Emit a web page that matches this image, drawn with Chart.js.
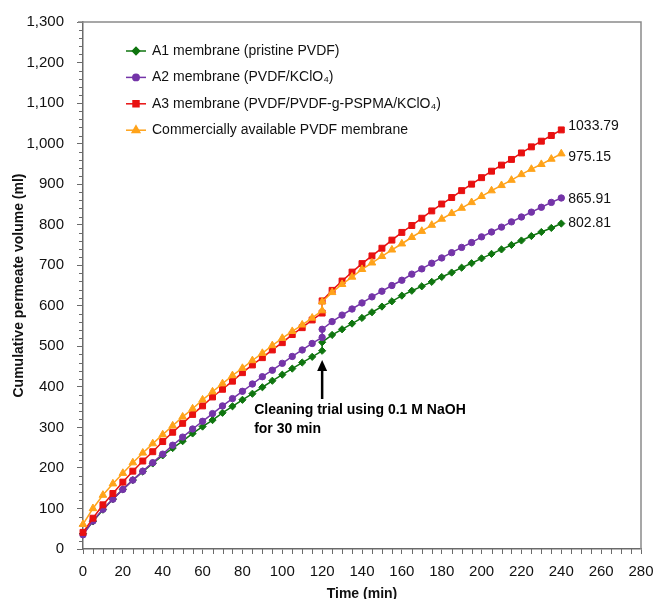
<!DOCTYPE html>
<html>
<head>
<meta charset="utf-8">
<script src="https://cdn.jsdelivr.net/npm/chart.js@4.4.1/dist/chart.umd.min.js"></script>
<style>
    html, body { margin: 0; padding: 0; background: #fff; }
    canvas { display: block; }
</style>
</head>
<body>
<canvas id="grafico" width="654" height="599"></canvas>
<script>
// ── Datos ─────────────────────────────────────────────────
// t = 120 aparece dos veces: antes y después de la limpieza con NaOH
const TIEMPOS = [0, 5, 10, 15, 20, 25, 30, 35, 40, 45, 50, 55, 60, 65, 70, 75, 80, 85, 90, 95, 100, 105, 110, 115, 120,
    120, 125, 130, 135, 140, 145, 150, 155, 160, 165, 170, 175, 180, 185, 190, 195, 200, 205, 210, 215, 220, 225, 230, 235, 240];

const VOL_A1 = [38, 68, 97, 123, 147, 170, 191, 211, 231, 249, 266, 285, 302, 318, 336, 352, 368, 383, 399, 415, 430, 445, 460, 474, 489,
    510, 528, 542, 556, 570, 584, 598, 611, 625, 637, 648, 659, 671, 682, 694, 705, 717, 728, 739, 750, 761, 772, 782, 792, 802.81];
const VOL_A2 = [35, 69, 98, 123, 147, 170, 192, 213, 234, 256, 276, 296, 315, 334, 353, 371, 389, 407, 425, 441, 458, 475, 491, 507, 522,
    542, 561, 577, 592, 607, 622, 636, 650, 663, 678, 691, 705, 718, 731, 744, 756, 770, 782, 794, 807, 819, 831, 843, 855, 865.91];
const VOL_A3 = [41, 76, 109, 137, 165, 192, 217, 240, 265, 288, 310, 332, 353, 375, 394, 414, 435, 454, 472, 491, 509, 529, 546, 565, 582,
    612, 638, 661, 683, 704, 723, 742, 762, 781, 798, 816, 834, 851, 867, 884, 900, 916, 932, 947, 961, 977, 992, 1006, 1020, 1033.79];
const VOL_COM = [61, 100, 133, 161, 187, 213, 237, 260, 282, 304, 326, 346, 368, 388, 408, 428, 446, 465, 483, 502, 520, 537, 553, 570, 588,
    610, 633, 653, 671, 690, 706, 722, 738, 753, 769, 784, 799, 814, 828, 841, 855, 870, 884, 897, 910, 924, 937, 949, 962, 975.15];

const NOMBRES = [
    'A1 membrane (pristine PVDF)',
    'A2 membrane (PVDF/KClO\u2084)',
    'A3 membrane (PVDF/PVDF-g-PSPMA/KClO\u2084)',
    'Commercially available PVDF membrane'
];
const ETIQUETAS_FINALES = ['802.81', '865.91', '1033.79', '975.15'];

const EJE_X_MAX = 280;
const EJE_Y_MAX = 1300;

// Flecha de la limpieza (en unidades del gráfico)
const LIMPIEZA_T = 120;
const LIMPIEZA_PUNTA = 466;
const LIMPIEZA_BASE = 370;
const LIMPIEZA_TEXTO = ['Cleaning trial using 0.1 M NaOH', 'for 30 min'];

// ── Estilo ────────────────────────────────────────────────
// sin fuente estrecha instalada: Liberation Sans un poco más pequeña
const FUENTE = "'Liberation Sans Narrow', 'Arial Narrow', 'Liberation Sans', Arial, sans-serif";
const COLORES = ['#0f750f', '#7434a8', '#e81010', '#ffa31a'];
const ESTILOS_PUNTO = ['rectRot', 'circle', 'rect', 'triangle'];
const RADIOS_PUNTO = [3.6, 3.2, 4.2, 4.4];
const GRIS_EJE = '#6b6b6b';

Chart.defaults.font.family = FUENTE;
Chart.defaults.color = '#111';

function serie(valores) {
    return TIEMPOS.map((t, i) => ({ x: t, y: valores[i] }));
}

const datasets = [VOL_A1, VOL_A2, VOL_A3, VOL_COM].map((v, i) => ({
    label: NOMBRES[i],
    data: serie(v),
    borderColor: COLORES[i],
    backgroundColor: COLORES[i],
    borderWidth: 1.5,
    pointStyle: ESTILOS_PUNTO[i],
    pointRadius: RADIOS_PUNTO[i],
    pointBorderWidth: 1,
    pointHoverRadius: RADIOS_PUNTO[i],
    tension: 0,
    clip: false,
    order: 4 - i // la última serie queda encima, como en Excel
}));

// Caja gris superior/derecha y marcas menores de los ejes
const marcoYMarcas = {
    id: 'marcoYMarcas',
    beforeDatasetsDraw(chart) {
        const { ctx, chartArea: ca, scales: { x, y } } = chart;
        ctx.save();
        ctx.strokeStyle = '#8a8a8a';
        ctx.lineWidth = 1.5;
        ctx.beginPath();
        ctx.moveTo(ca.left - 5, ca.top);
        ctx.lineTo(ca.right, ca.top);
        ctx.lineTo(ca.right, ca.bottom);
        ctx.stroke();

        ctx.strokeStyle = GRIS_EJE;
        ctx.lineWidth = 1;
        ctx.beginPath();
        for (let v = 20; v < EJE_Y_MAX; v += 20) {
            if (v % 100 === 0) continue;
            const py = Math.round(y.getPixelForValue(v)) + 0.5;
            ctx.moveTo(ca.left - 4, py);
            ctx.lineTo(ca.left, py);
        }
        for (let t = 5; t < EJE_X_MAX; t += 5) {
            if (t % 20 === 0) continue;
            const px = Math.round(x.getPixelForValue(t)) + 0.5;
            ctx.moveTo(px, ca.bottom);
            ctx.lineTo(px, ca.bottom + 5);
        }
        ctx.stroke();
        ctx.restore();
    }
};

// Leyenda dentro del área del gráfico, arriba a la izquierda
const leyendaInterna = {
    id: 'leyendaInterna',
    afterDraw(chart) {
        const { ctx, chartArea: ca } = chart;
        const x0 = ca.left + 43;
        const y0 = ca.top + 29;
        const paso = 26.4;
        ctx.save();
        chart.data.datasets.forEach((ds, i) => {
            const yy = y0 + i * paso;
            ctx.strokeStyle = ds.borderColor;
            ctx.fillStyle = ds.backgroundColor;
            ctx.lineWidth = 1.5;
            ctx.beginPath();
            ctx.moveTo(x0, yy);
            ctx.lineTo(x0 + 20, yy);
            ctx.stroke();
            Chart.helpers.drawPoint(ctx, {
                pointStyle: ds.pointStyle, radius: ds.pointRadius, rotation: 0, borderWidth: 1
            }, x0 + 10, yy);
            ctx.fillStyle = '#111';
            ctx.font = '14px ' + FUENTE;
            ctx.textBaseline = 'middle';
            ctx.textAlign = 'left';
            ctx.fillText(ds.label, x0 + 26, yy);
        });
        ctx.restore();
    }
};

// Valores finales junto al último punto de cada serie
const etiquetasFinales = {
    id: 'etiquetasFinales',
    afterDatasetsDraw(chart) {
        const { ctx } = chart;
        const ajusteY = [0, 1, -4, 3];
        ctx.save();
        ctx.fillStyle = '#111';
        ctx.font = '14px ' + FUENTE;
        ctx.textBaseline = 'middle';
        ctx.textAlign = 'left';
        chart.data.datasets.forEach((ds, i) => {
            const meta = chart.getDatasetMeta(i);
            const ultimo = meta.data[meta.data.length - 1];
            ctx.fillText(ETIQUETAS_FINALES[i], ultimo.x + 7, ultimo.y + ajusteY[i]);
        });
        ctx.restore();
    }
};

// Flecha y texto de la limpieza con NaOH
const anotacionLimpieza = {
    id: 'anotacionLimpieza',
    afterDatasetsDraw(chart) {
        const { ctx, scales: { x, y } } = chart;
        const px = x.getPixelForValue(LIMPIEZA_T);
        const punta = y.getPixelForValue(LIMPIEZA_PUNTA);
        const base = y.getPixelForValue(LIMPIEZA_BASE);
        ctx.save();
        ctx.strokeStyle = '#000';
        ctx.fillStyle = '#000';
        ctx.lineWidth = 2.5;
        ctx.beginPath();
        ctx.moveTo(px, base);
        ctx.lineTo(px, punta + 8);
        ctx.stroke();
        ctx.beginPath();
        ctx.moveTo(px, punta);
        ctx.lineTo(px - 5, punta + 11);
        ctx.lineTo(px + 5, punta + 11);
        ctx.closePath();
        ctx.fill();
        ctx.font = 'bold 14px ' + FUENTE;
        ctx.textBaseline = 'middle';
        ctx.textAlign = 'left';
        ctx.fillText(LIMPIEZA_TEXTO[0], px - 68, base + 11);
        ctx.fillText(LIMPIEZA_TEXTO[1], px - 68, base + 30);
        ctx.restore();
    }
};

new Chart(document.getElementById('grafico'), {
    type: 'line',
    data: { datasets },
    options: {
        responsive: false,
        animation: false,
        events: [],
        layout: { padding: { left: 0, right: 13, top: 22, bottom: 0 } },
        plugins: {
            legend: { display: false },
            tooltip: { enabled: false }
        },
        scales: {
            x: {
                type: 'linear',
                min: 0, max: EJE_X_MAX,
                afterFit: s => { s.height = 50; s.paddingLeft = 0; s.paddingRight = 0; },
                ticks: { stepSize: 20, padding: 9, color: '#111', font: { size: 15 } },
                grid: { drawOnChartArea: false, drawTicks: true, tickLength: 5, color: GRIS_EJE },
                border: { color: GRIS_EJE, width: 1.5 },
                title: {
                    display: true, text: 'Time (min)', color: '#111',
                    font: { size: 14, weight: 'bold', lineHeight: 0.7 }, padding: { top: 0, bottom: 0 }
                }
            },
            y: {
                min: 0, max: EJE_Y_MAX,
                afterFit: s => { s.width = 83; s.paddingTop = 0; s.paddingBottom = 0; },
                ticks: {
                    stepSize: 100, padding: 13, color: '#111', font: { size: 15 },
                    callback: v => v.toLocaleString('en-US')
                },
                grid: { drawOnChartArea: false, drawTicks: true, tickLength: 6, color: GRIS_EJE },
                border: { color: GRIS_EJE, width: 1.5 },
                title: {
                    display: true, text: 'Cumulative permeate volume (ml)', color: '#111',
                    font: { size: 14, weight: 'bold' }, padding: { top: 11, bottom: 0 }
                }
            }
        }
    },
    plugins: [marcoYMarcas, leyendaInterna, etiquetasFinales, anotacionLimpieza]
});
</script>
</body>
</html>
